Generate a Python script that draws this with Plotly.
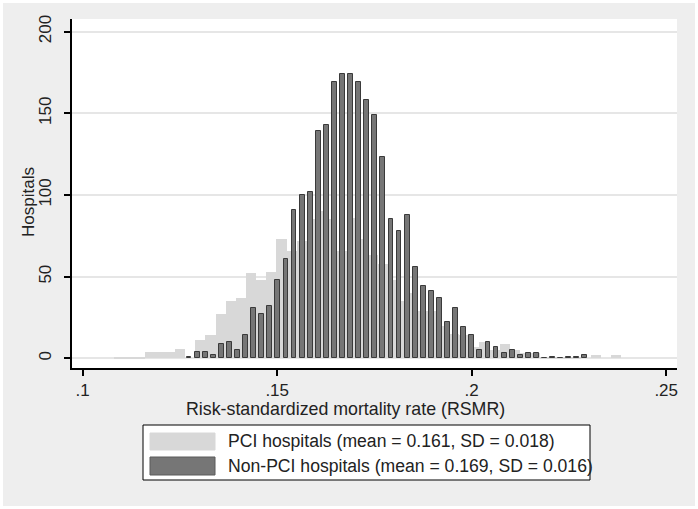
import plotly.graph_objects as go
import numpy as np

# ---- data (histogram bins) ----
pci_bin_start = 0.1081
pci_bin_width = 0.002607
pci_counts = [1, 1, 1, 4, 4, 4, 6, 0, 11, 14,
              27, 35, 37, 52, 48, 53, 73, 66, 72, 85,
              90, 85, 66, 86, 73, 63, 58, 48, 35, 40,
              29, 29, 20, 15, 14, 7, 10, 5, 9, 5,
              3, 3, 1, 1, 1, 1, 0, 2, 0, 2]

nonpci_bin_start = 0.12629
nonpci_bin_width = 0.002077
nonpci_counts = [1, 4, 4, 2, 9, 10, 5, 14, 31, 27,
                 32, 48, 61, 91, 100, 102, 139, 143, 169, 174,
                 174, 169, 158, 149, 123, 85, 78, 88, 56, 44,
                 41, 37, 22, 31, 19, 14, 5, 10, 7, 3,
                 5, 2, 3, 3, 0, 1, 0, 1, 1, 2]

x_tick_vals = [0.10, 0.15, 0.20, 0.25]
x_tick_text = [".1", ".15", ".2", ".25"]
y_tick_vals = [0, 50, 100, 150, 200]

pci_label = "PCI hospitals (mean = 0.161, SD = 0.018)"
nonpci_label = "Non-PCI hospitals (mean = 0.169, SD = 0.016)"
x_title = "Risk-standardized mortality rate (RSMR)"
y_title = "Hospitals"

pci_centers = pci_bin_start + pci_bin_width * (np.arange(len(pci_counts)) + 0.5)
nonpci_centers = nonpci_bin_start + nonpci_bin_width * (np.arange(len(nonpci_counts)) + 0.5)

FONT = "Liberation Sans, Arial, sans-serif"
LIGHT = "#d8d8d8"
DARK = "#767676"
DARK_LINE = "#3a3a3a"
BG = "#eeeeee"
TXT = "#222222"

W, H = 698, 509
L, R, T, B = 72, 677, 19, 368  # plot area in pixels


def px(xp):
    return (xp - L) / (R - L)


def py(yp):
    return (B - yp) / (B - T)


fig = go.Figure()
fig.add_trace(go.Bar(
    x=pci_centers, y=pci_counts, width=pci_bin_width,
    marker=dict(color=LIGHT, line=dict(width=0)),
    name=pci_label, showlegend=False,
))
fig.add_trace(go.Bar(
    x=nonpci_centers, y=nonpci_counts, width=nonpci_bin_width * 0.6,
    marker=dict(color=DARK, line=dict(color=DARK_LINE, width=1)),
    name=nonpci_label, showlegend=False,
))

shapes = []
annotations = []

# thin white outer frame
shapes.append(dict(type="rect", xref="paper", yref="paper",
                   x0=px(1.5), x1=px(W - 1.5), y0=py(H - 1.5), y1=py(1.5),
                   fillcolor="rgba(0,0,0,0)", line=dict(color="white", width=3),
                   layer="above"))

# legend box
shapes.append(dict(type="rect", xref="paper", yref="paper",
                   x0=px(143), x1=px(590), y0=py(480), y1=py(425),
                   fillcolor="white", line=dict(color="black", width=1)))
shapes.append(dict(type="rect", xref="paper", yref="paper",
                   x0=px(150), x1=px(215), y0=py(450), y1=py(433),
                   fillcolor=LIGHT, line=dict(color=LIGHT, width=1)))
shapes.append(dict(type="rect", xref="paper", yref="paper",
                   x0=px(150), x1=px(215), y0=py(475), y1=py(457),
                   fillcolor=DARK, line=dict(color="#5a5a5a", width=1)))
annotations.append(dict(text=pci_label, xref="paper", yref="paper",
                        x=px(226), y=py(441.5), xanchor="left", yanchor="middle",
                        showarrow=False, font=dict(family=FONT, size=17.6, color=TXT)))
annotations.append(dict(text=nonpci_label, xref="paper", yref="paper",
                        x=px(226), y=py(466), xanchor="left", yanchor="middle",
                        showarrow=False, font=dict(family=FONT, size=17.6, color=TXT)))
# axis titles
annotations.append(dict(text=x_title, xref="paper", yref="paper",
                        x=px(345), y=py(409), xanchor="center", yanchor="middle",
                        showarrow=False, font=dict(family=FONT, size=17.8, color=TXT)))
annotations.append(dict(text=y_title, xref="paper", yref="paper",
                        x=px(28), y=py(202), xanchor="center", yanchor="middle",
                        textangle=-90,
                        showarrow=False, font=dict(family=FONT, size=17, color=TXT)))

fig.update_layout(
    width=W, height=H,
    margin=dict(l=L, r=W - R, t=T, b=H - B, pad=0),
    paper_bgcolor=BG, plot_bgcolor="white",
    barmode="overlay", bargap=0,
    font=dict(family=FONT, size=17, color=TXT),
    shapes=shapes, annotations=annotations,
    showlegend=False,
)
fig.update_xaxes(
    range=[0.09725, 0.25278],
    tickvals=x_tick_vals, ticktext=x_tick_text,
    ticks="outside", ticklen=6, tickwidth=1.5, tickcolor="black",
    showline=True, linecolor="black", linewidth=1.5,
    showgrid=False, zeroline=False,
    tickfont=dict(family=FONT, size=17, color=TXT),
)
fig.update_yaxes(
    range=[-5.9, 207.7],
    tickvals=y_tick_vals,
    ticks="outside", ticklen=6, tickwidth=1.5, tickcolor="black",
    tickangle=-90, ticklabelstandoff=6,
    showline=True, linecolor="black", linewidth=1.5,
    showgrid=True, gridcolor="#e6e6e6", gridwidth=1.5,
    zeroline=False,
    tickfont=dict(family=FONT, size=17, color=TXT),
)

fig.write_html(
    "out.html",
    config={"displayModeBar": False},
    post_script="document.body.style.margin='0';document.body.style.overflow='hidden';",
)
